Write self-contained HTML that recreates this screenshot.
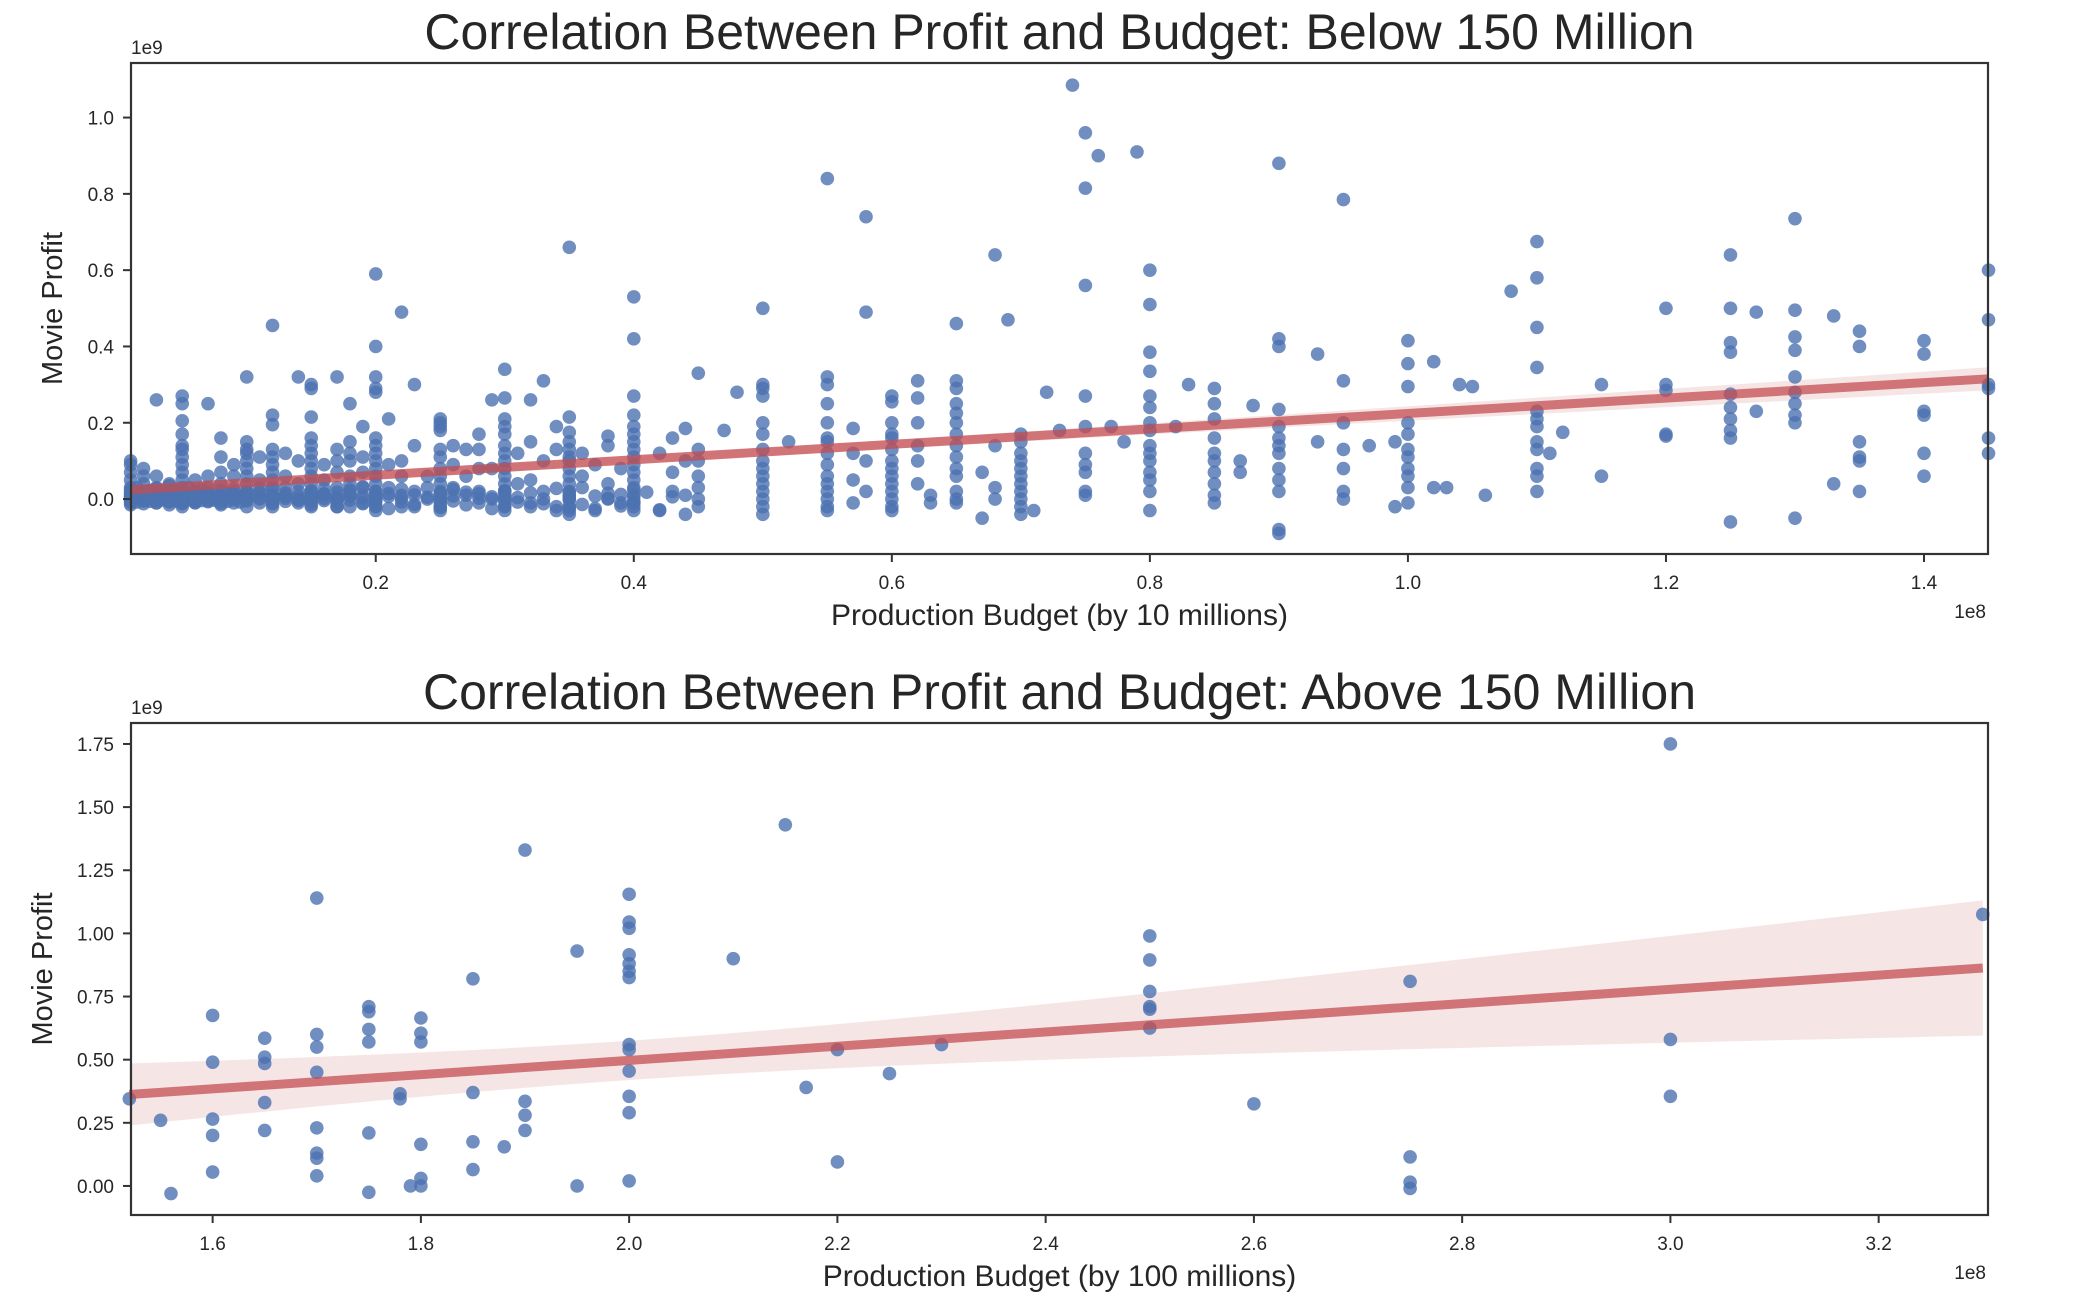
<!DOCTYPE html>
<html><head><meta charset="utf-8"><style>
html,body{margin:0;padding:0;background:#fff}
svg text{font-family:"Liberation Sans",Arial,sans-serif;fill:#262626}
</style></head><body>
<svg id="chart" width="2092" height="1300" viewBox="0 0 2092 1300" xmlns="http://www.w3.org/2000/svg">
<g id="top"></g>
<g id="bot"></g>
</svg>
<script>
// ---------- DATA (budget in millions, profit in millions) ----------
const topBudgets = [1,1,1,1,1,1,1,1,1,2,2,2,2,2,2,3,3,3,3,4,4,4,4,5,5,5,5,5,5,5,5,5,5,5,6,6,6,6,7,7,7,7,8,8,8,8,8,9,9,9,9,10,10,10,10,10,10,10,10,10,10,11,11,11,12,12,12,12,12,12,12,12,12,13,13,13,14,14,14,15,15,15,15,15,15,15,15,15,15,16,16,16,17,17,17,17,17,17,18,18,18,18,18,18,18,19,19,19,19,20,20,20,20,20,20,20,20,20,20,20,21,21,22,22,22,22,23,23,24,24,25,25,25,25,25,25,25,25,25,25,25,26,26,26,27,27,27,28,28,28,29,29,30,30,30,30,30,30,30,30,30,30,30,30,31,31,32,32,32,33,33,34,34,35,35,35,35,35,35,35,35,35,35,35,35,36,36,37,37,38,38,38,39,39,40,40,40,40,40,40,40,40,40,40,40,40,42,42,43,43,44,44,
3,5,5,5,5,7,8,10,12,12,12,14,15,15,15,17,18,19,20,20,20,20,20,22,23,21,25,25,28,30,30,30,29,32,33,34,35,35,35,38,40,40,40,40,43,44,45,47,48,50,50,50,50,52,55,55,55,55,57,58,58,60,60,60,62,62,65,65,65,65,65,68,69,72,74,75,75,75,75,76,79,80,80,80,80,80,80,83,85,85,88,90,90,90,90,93,95,95,95,100,100,100,102,104,105,108,110,110,110,110,110,115,120,120,120,125,125,125,125,125,127,130,130,130,130,130,133,135,135,140,140,145,145,145,
45,45,45,45,45,45,50,50,50,50,50,50,50,50,50,50,50,55,55,55,55,55,55,55,55,55,55,55,57,57,57,58,58,60,60,60,60,60,60,60,60,60,60,60,62,62,62,62,63,63,65,65,65,65,65,65,65,65,65,67,67,68,68,68,70,70,70,70,70,70,70,70,70,70,70,73,71,75,75,75,75,75,75,78,77,80,80,80,80,80,80,80,80,80,82,85,85,85,85,85,85,85,85,87,87,90,90,90,90,90,90,90,90,90,93,95,95,95,95,97,99,99,100,100,100,100,100,100,100,100,102,103,106,110,110,110,110,110,110,110,112,111,115,120,120,125,125,125,125,125,127,130,130,130,130,130,133,135,135,135,135,140,140,140,140,145,145,145,
1,1,1,1,1,1.5,1.5,1.5,1.5,2,2,2,2,2,2.5,2.5,2.5,2.5,3,3,3,3,3,3.5,3.5,3.5,4,4,4,4,4,4.5,4.5,4.5,5,5,5,5,5,5.5,5.5,5.5,6,6,6,6,6.5,6.5,6.5,7,7,7,7,7.5,7.5,8,8,8,8,8.5,8.5,9,9,9,9,9.5,9.5,10,10,10,10,10,11,11,11,11,12,12,12,12,12,13,13,13,13,14,14,14,14,15,15,15,15,15,16,16,16,16,17,17,17,17,18,18,18,18,19,19,19,20,20,20,20,20,21,21,21,22,22,22,23,23,23,24,24,25,25,25,25,25,26,26,26,27,27,28,28,28,29,29,30,30,30,30,30,31,31,32,32,33,33,34,34,35,35,35,35,35,36,36,37,37,38,38,39,39,40,40,40,40,40,41,42,43,44,
1,1,2,2,3,3,4,4,5,5,6,6,7,7,8,8,9,9,10,10,11,12,13,14,15,15,16,17,18,19,20,20];
const topProfits = [100,90,70,50,30,20,10,0,-10,80,60,40,20,5,-5,60,30,10,-10,40,20,0,-15,140,130,110,90,70,50,30,15,0,-10,-20,50,20,0,-10,60,30,10,-5,110,70,40,10,-15,90,60,20,-10,150,130,120,100,80,60,40,20,0,-20,110,50,0,130,110,90,70,50,30,10,-10,-20,120,60,10,100,40,-10,160,140,120,100,80,60,40,20,0,-20,90,50,10,130,100,70,30,0,-20,150,120,100,60,40,20,-20,110,70,30,-10,160,140,120,100,80,60,40,20,0,-20,-30,90,30,100,60,10,-20,140,20,60,0,200,180,130,110,80,60,40,20,0,-20,-30,140,90,30,130,60,10,130,80,20,80,0,190,170,140,120,100,80,60,40,20,0,-20,-30,120,40,150,50,-10,100,20,130,-20,150,130,110,100,80,60,40,20,0,-20,-30,-40,120,60,90,-30,140,40,0,80,-10,190,170,150,130,110,90,70,50,30,10,-10,-30,120,-30,70,20,100,-40,
260,270,250,205,170,250,160,320,455,220,195,320,300,290,215,320,250,190,590,400,320,290,280,490,300,210,210,190,170,340,265,210,260,260,310,190,660,215,175,165,530,420,270,220,160,185,330,180,280,500,300,290,270,150,840,320,300,160,185,740,490,270,255,170,310,265,460,310,290,250,225,640,470,280,1085,960,815,560,270,900,910,600,510,385,335,270,240,300,290,250,245,880,420,400,235,380,785,310,200,415,355,295,360,300,295,545,675,580,450,345,230,300,500,300,285,640,500,410,385,275,490,735,495,425,390,320,480,440,400,415,380,600,470,300,
130,100,60,30,0,-20,200,170,130,100,80,60,40,20,0,-20,-40,250,200,150,120,90,60,40,20,0,-20,-30,120,50,-10,100,20,200,160,130,100,80,60,40,20,0,-20,-30,200,140,100,40,10,-10,200,170,140,110,80,60,20,-10,0,-50,70,140,30,0,170,150,120,100,80,60,40,20,0,-20,-40,180,-30,190,120,90,70,20,10,150,190,200,180,140,120,100,70,50,20,-30,190,210,160,120,100,70,40,10,-10,100,70,190,160,140,120,80,50,20,-80,-90,150,130,80,20,0,140,150,-20,200,170,130,110,80,60,30,-10,30,30,10,210,190,150,130,80,60,20,175,120,60,170,165,240,210,180,160,-60,230,280,250,220,200,-50,40,150,110,100,20,230,220,120,60,160,120,290,
5,-5,15,0,25,2,-8,12,30,8,-4,18,3,-12,6,22,-6,10,4,-3,16,28,-10,7,-2,20,5,-8,14,1,35,-5,9,24,3,-6,15,-12,8,30,-2,11,6,-9,19,2,-4,13,26,5,-7,17,0,10,-3,22,4,-11,8,15,-6,3,28,-2,12,6,-8,20,1,14,-5,9,30,-10,4,18,-3,25,7,-12,10,2,16,-6,30,-2,8,20,0,-8,12,-15,5,22,-4,14,28,1,-10,18,6,-20,9,24,-3,15,-12,3,32,-6,10,-18,20,0,-25,7,14,-8,26,2,-14,11,-20,5,30,-9,16,-3,12,-22,8,25,-5,-15,18,2,-10,14,-25,6,20,-5,10,-18,22,-8,4,-20,16,0,-12,28,-30,6,18,-2,-22,10,30,-14,8,-25,15,2,-18,12,-6,24,-20,5,-10,18,-28,6,10,-15,
8,-2,6,-4,4,-6,10,0,3,12,-5,7,1,9,-3,6,11,-1,5,14,2,8,-4,10,3,12,-2,6,9,-5,4,15];
const botBudgets = [152,155,156,160,160,160,160,160,165,165,165,165,165,170,170,170,170,170,170,170,170,175,175,175,175,175,175,178,178,180,180,180,180,180,180,179,185,185,185,185,188,190,190,190,190,195,195,200,200,200,200,200,200,200,200,200,200,200,200,200,210,215,217,220,220,225,230,250,250,250,250,250,250,260,275,275,275,275,300,300,300,330];
const botProfits = [345,260,-30,675,490,265,200,55,585,510,485,330,220,1140,600,550,450,230,130,110,40,710,690,620,570,210,-25,365,345,665,605,570,165,30,0,0,820,370,175,65,155,1330,335,280,220,930,0,1155,1045,1020,915,880,850,825,560,540,455,355,290,20,900,1430,390,540,95,445,560,990,895,770,710,700,625,325,810,115,15,-10,1750,580,355,1075];
const topYTicks = [0,0.2,0.4,0.6,0.8,1.0];
const topYLabels = ["0.0","0.2","0.4","0.6","0.8","1.0"];
const topXTicks = [0.2,0.4,0.6,0.8,1.0,1.2,1.4];
const topXLabels = ["0.2","0.4","0.6","0.8","1.0","1.2","1.4"];
const botYTicks = [0,0.25,0.5,0.75,1.0,1.25,1.5,1.75];
const botYLabels = ["0.00","0.25","0.50","0.75","1.00","1.25","1.50","1.75"];
const botXTicks = [1.6,1.8,2.0,2.2,2.4,2.6,2.8,3.0,3.2];
const botXLabels = ["1.6","1.8","2.0","2.2","2.4","2.6","2.8","3.0","3.2"];

const NS="http://www.w3.org/2000/svg";
function mk(parent,tag,attrs){const e=document.createElementNS(NS,tag);for(const k in attrs)e.setAttribute(k,attrs[k]);parent.appendChild(e);return e;}

function panel(g,cfg){
  const {L,R,T,B,x0,x1,y0,y1}=cfg;
  const sx=v=>L+(v-x0)/(x1-x0)*(R-L);
  const sy=v=>B-(v-y0)/(y1-y0)*(B-T);
  const xs=cfg.bx.map(v=>v/100), ys=cfg.py.map(v=>v/1000);
  const n=Math.min(xs.length,ys.length); let mx=0,my=0; for(let i=0;i<n;i++){mx+=xs[i];my+=ys[i];} mx/=n;my/=n;
  let sxx=0,sxy=0; for(let i=0;i<n;i++){sxx+=(xs[i]-mx)**2;sxy+=(xs[i]-mx)*(ys[i]-my);}
  const b=sxy/sxx,a=my-b*mx; let sse=0; for(let i=0;i<n;i++){sse+=(ys[i]-a-b*xs[i])**2;}
  const s=Math.sqrt(sse/(n-2));
  const xmin=Math.min(...xs.slice(0,n)),xmax=Math.max(...xs.slice(0,n));
  const up=[],lo=[];
  for(let k=0;k<=50;k++){const xv=xmin+(xmax-xmin)*k/50;const se=1.96*s*Math.sqrt(1/n+(xv-mx)**2/sxx);const yv=a+b*xv;up.push(sx(xv)+','+sy(yv+se));lo.unshift(sx(xv)+','+sy(yv-se));}
  const band=mk(g,'polygon',{points:up.concat(lo).join(' '),fill:'#c44e52','fill-opacity':0.15});
  
  
  const pts=mk(g,'g',{});
  
  
  for(let i=0;i<n;i++){
    const c=mk(pts,'circle',{cx:sx(xs[i]),cy:sy(ys[i]),r:6.8,fill:'#4c72b0','fill-opacity':0.8});
    
    
  }
  const ln=mk(g,'line',{x1:sx(xmin),y1:sy(a+b*xmin),x2:sx(xmax),y2:sy(a+b*xmax),stroke:'#c44e52','stroke-opacity':0.75,'stroke-width':9});
  
  
  const fr=mk(g,'rect',{x:L,y:T,width:R-L,height:B-T,fill:'none',stroke:'#333','stroke-width':2.2});
  
  
  cfg.yt.forEach((v,i)=>{const y=sy(v);mk(g,'line',{x1:L-8,x2:L,y1:y,y2:y,stroke:'#333','stroke-width':2});
    const t=mk(g,'text',{x:L-17,y:y+7,'text-anchor':'end','font-size':19});t.textContent=cfg.yl[i];
    
    });
  cfg.xt.forEach((v,i)=>{const x=sx(v);mk(g,'line',{x1:x,x2:x,y1:B,y2:B+8,stroke:'#333','stroke-width':2});
    const t=mk(g,'text',{x:x,y:B+35,'text-anchor':'middle','font-size':19});t.textContent=cfg.xl[i];
    
    });
  const ti=mk(g,'text',{x:(L+R)/2,y:T-14,'text-anchor':'middle','font-size':50});ti.textContent=cfg.title;
  
  
  const xl=mk(g,'text',{x:(L+R)/2,y:B+71,'text-anchor':'middle','font-size':30});xl.textContent=cfg.xlabel;
  
  
  const yl=mk(g,'text',{x:0,y:0,'text-anchor':'middle','font-size':29,transform:`translate(${cfg.ylx},${(T+B)/2}) rotate(-90)`});yl.textContent='Movie Profit';
  
  
  const o1=mk(g,'text',{x:L,y:T-9,'font-size':19});o1.textContent='1e9';
  
  
  const o2=mk(g,'text',{x:R-2,y:B+64,'text-anchor':'end','font-size':19});o2.textContent='1e8';
  
  
}
panel(document.getElementById('top'),{id:'top',L:131,R:1988,T:63,B:554,x0:0.0103,x1:1.4496,y0:-0.144,y1:1.143,
  bx:topBudgets,py:topProfits,yt:topYTicks,yl:topYLabels,xt:topXTicks,xl:topXLabels,ylx:62,
  title:'Correlation Between Profit and Budget: Below 150 Million',xlabel:'Production Budget (by 10 millions)'});
panel(document.getElementById('bot'),{id:'bottom',L:131,R:1988,T:723,B:1215,x0:1.5216,x1:3.305,y0:-0.115,y1:1.833,
  bx:botBudgets,py:botProfits,yt:botYTicks,yl:botYLabels,xt:botXTicks,xl:botXLabels,ylx:52,
  title:'Correlation Between Profit and Budget: Above 150 Million',xlabel:'Production Budget (by 100 millions)'});
</script>
</body></html>
